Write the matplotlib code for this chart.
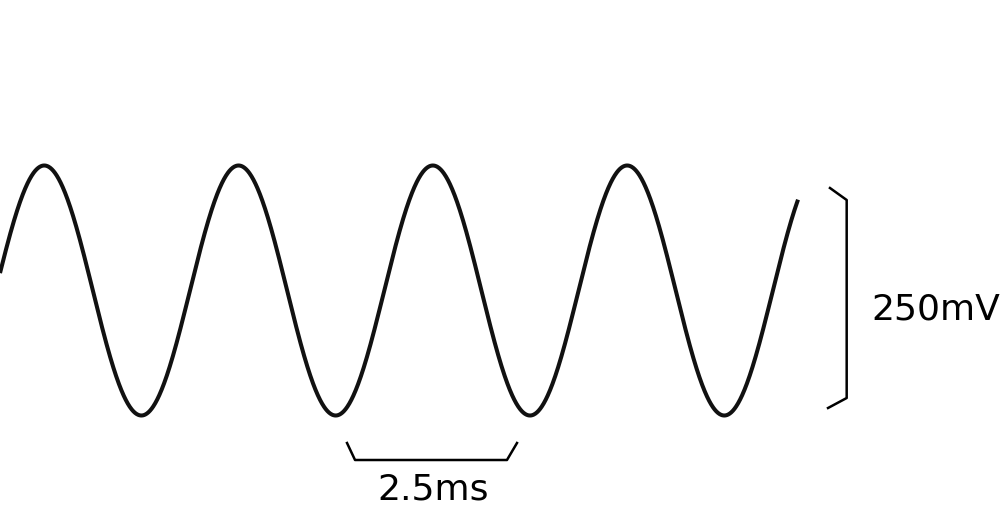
import numpy as np
import matplotlib
matplotlib.use("Agg")
import matplotlib.pyplot as plt

# Signal parameters
frequency_khz = 0.4        # period 2.5 ms
amplitude_mv = 125.0       # 250 mV peak-to-peak
phase_rad = 0.14
t_start_ms = 0.0
t_end_ms = 10.268
n_samples = 2000

# Scale-bar annotations (ms, mV)
time_bar_label = "2.5ms"
volt_bar_label = "250mV"
time_bar_t = [4.465, 4.568, 6.523, 6.652]
time_bar_v = [-152.5, -169.5, -169.5, -152.5]
volt_bar_t = [10.679, 10.894, 10.894, 10.654]
volt_bar_v = [102.5, 90.5, -107.5, -117.5]

t = np.linspace(t_start_ms, t_end_ms, n_samples)
v = amplitude_mv * np.sin(2 * np.pi * frequency_khz * t + phase_rad)

px_per_ms = 77.72
fig = plt.figure(figsize=(10, 5.2), dpi=100)
ax = fig.add_axes([0, 0, 1, 1])
ax.set_xlim(0, 1000 / px_per_ms)
ax.set_ylim(-229.5, 290.5)
ax.axis("off")

ax.plot(t, v, color="#111111", lw=2.9, solid_capstyle="butt")
ax.plot(time_bar_t, time_bar_v, color="black", lw=1.8)
ax.plot(volt_bar_t, volt_bar_v, color="black", lw=1.8)

ax.text(5.571, -199.5, time_bar_label, fontsize=26, ha="center", va="center",
        family="DejaVu Sans")
ax.text(11.207, -19.5, volt_bar_label, fontsize=26, ha="left", va="center",
        family="DejaVu Sans")

fig.savefig("out.png", dpi=100, facecolor="white")
